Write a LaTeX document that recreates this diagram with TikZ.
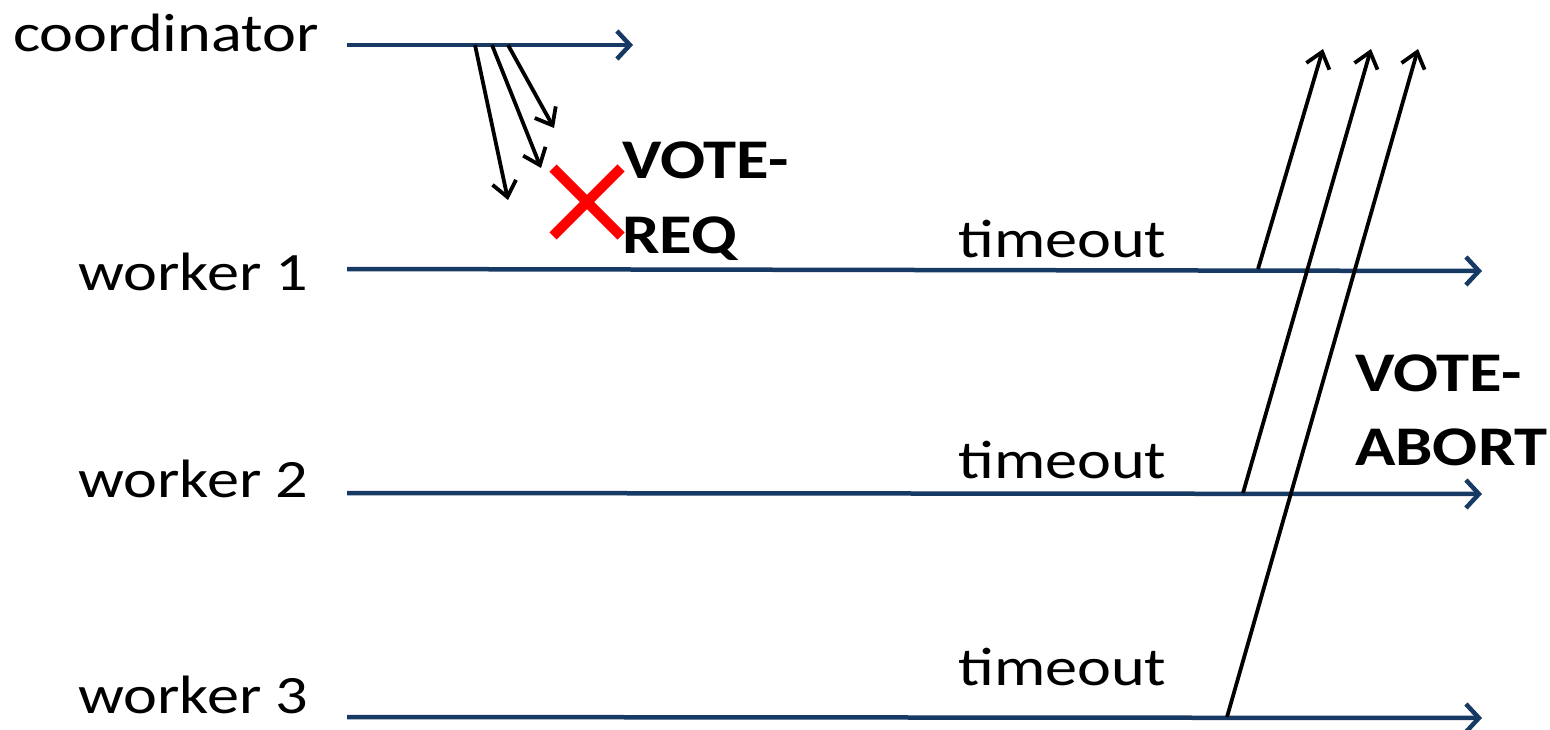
\documentclass[tikz,border=0pt]{standalone}
\usepackage{fontspec}
\setmainfont{Carlito}[FakeStretch=1.19]
\usetikzlibrary{arrows.meta}
\definecolor{tl}{RGB}{22,58,100}
\definecolor{lossred}{RGB}{255,0,0}

\begin{document}
\begin{tikzpicture}[x=1pt,y=-1pt,
  lbl/.style={anchor=base west, inner sep=0pt, font=\fontsize{54}{60}\selectfont},
  msglbl/.style={anchor=base west, inner sep=0pt, align=left, font=\bfseries\fontsize{56}{74}\selectfont},
  timeline/.style={draw=tl, line width=4.5pt, -{Straight Barb[length=13pt,width=28pt,line width=4.5pt]}},
  msg/.style={draw=black, line width=3.8pt, -{Straight Barb[length=15pt,width=24pt,line width=3.8pt]}},
  lost/.style={draw=lossred, line width=10pt},
]
\useasboundingbox (0,0) rectangle (1550,730);

% process labels
\node[lbl] (coord) at (13,52) {coordinator};
\node[lbl] (w1) at (78,290) {worker 1};
\node[lbl] (w2) at (78,497) {worker 2};
\node[lbl] (w3) at (78,713) {worker 3};

% time lines
\coordinate (c0) at (347,45);  \coordinate (c1) at (633,45);
\coordinate (a0) at (347,269); \coordinate (a1) at (1482,271);
\coordinate (b0) at (347,493); \coordinate (b1) at (1482,494);
\coordinate (d0) at (347,717); \coordinate (d1) at (1482,718);
\draw[timeline] (c0) -- (c1);
\draw[timeline] (a0) -- (a1);
\draw[timeline] (b0) -- (b1);
\draw[timeline] (d0) -- (d1);

% vote requests from the coordinator
\coordinate (r1) at (475,45);  \coordinate (e1) at (508,200);
\coordinate (r2) at (492,45);  \coordinate (e2) at (541,168);
\coordinate (r3) at (508,45);  \coordinate (e3) at (554,128);
\draw[msg] (r1) -- (e1);
\draw[msg] (r2) -- (e2);
\draw[msg] (r3) -- (e3);

% lost message
\draw[lost] (553,168) -- (621,236);
\draw[lost] (553,236) -- (621,168);
\node[msglbl] (req) at (622,253) {VOTE-\\REQ};

% timeouts
\node[lbl] (t1) at (958,258) {timeout};
\node[lbl] (t2) at (958,478) {timeout};
\node[lbl] (t3) at (958,685) {timeout};

% abort votes
\coordinate (s1) at (1258,269); \coordinate (f1) at (1323,49);
\coordinate (s2) at (1243,493); \coordinate (f2) at (1371,49);
\coordinate (s3) at (1227,717); \coordinate (f3) at (1418,49);
\draw[msg] (s1) -- (f1);
\draw[msg] (s2) -- (f2);
\draw[msg] (s3) -- (f3);

\node[msglbl] (abort) at (1355,465) {VOTE-\\ABORT};
\end{tikzpicture}
\end{document}
